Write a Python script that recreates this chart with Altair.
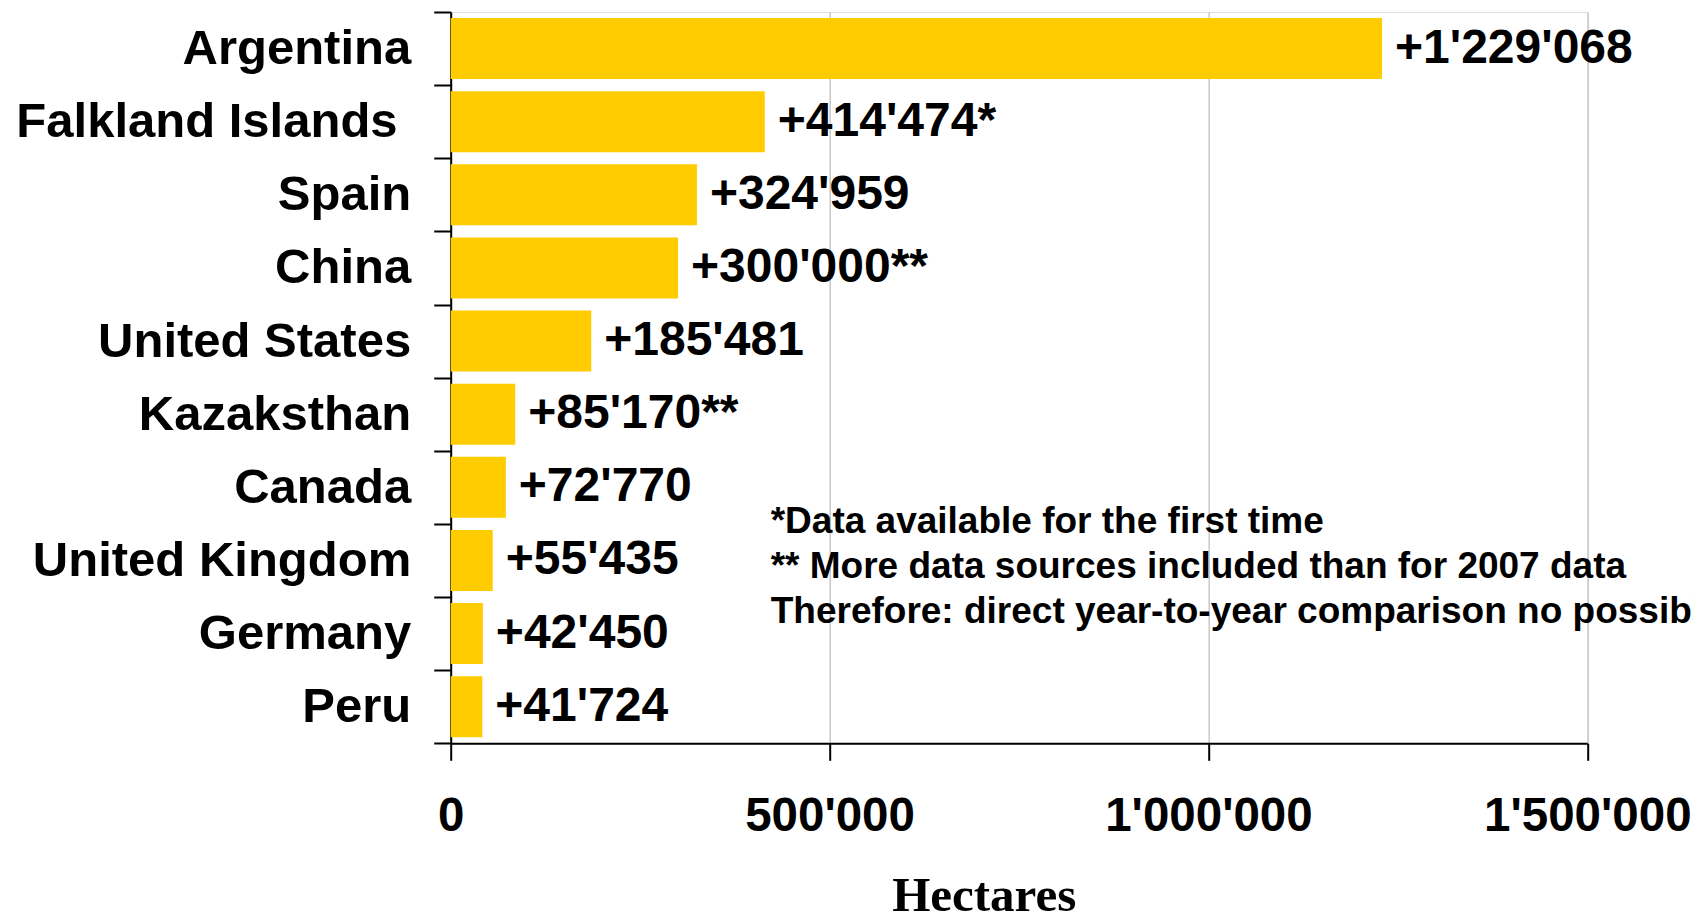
import altair as alt
import pandas as pd

countries = ["Argentina", "Falkland Islands\u00a0\u200b", "Spain", "China", "United States",
             "Kazaksthan", "Canada", "United Kingdom", "Germany", "Peru"]
hectares = [1229068, 414474, 324959, 300000, 185481, 85170, 72770, 55435, 42450, 41724]
value_labels = ["+1'229'068", "+414'474*", "+324'959", "+300'000**", "+185'481",
                "+85'170**", "+72'770", "+55'435", "+42'450", "+41'724"]
x_ticks = [0, 500000, 1000000, 1500000]
notes = ["*Data available for the first time",
         "** More data sources included than for 2007 data",
         "Therefore: direct year-to-year comparison no possible"]

df = pd.DataFrame({"country": countries, "value": hectares, "label": value_labels})
notes_df = pd.DataFrame({"note": ["\n".join(notes)]})

W = 1136.6
H = 731.3
FONT = "Liberation Sans"
SVG_W = 1686
SVG_H = 904

y_enc = alt.Y("country:N", sort=countries,
              scale=alt.Scale(paddingInner=0, paddingOuter=0),
              axis=alt.Axis(title=None, tickBand="extent", tickSize=17, labelPadding=23,
                            labelFontSize=49, labelFont=FONT, labelFontWeight="bold",
                            labelColor="black", domainColor="black", domainWidth=2,
                            tickColor="black", tickWidth=2, grid=False, labelLimit=0))
x_enc = alt.X("value:Q", scale=alt.Scale(domain=[0, 1500000], nice=False),
              axis=alt.Axis(values=x_ticks, title="Hectares", tickSize=17, labelPadding=56,
                            labelExpr="replace(format(datum.value, ','), regexp(',', 'g'), \"'\")",
                            labelFontSize=47.5, labelFont=FONT, labelFontWeight="bold",
                            labelColor="black", labelBaseline="middle", labelLimit=0,
                            domainColor="black", domainWidth=2, tickColor="black", tickWidth=2,
                            grid=True, gridColor="#C8C8C8", gridWidth=1.5,
                            titleFont="Liberation Serif", titleFontSize=49, titleFontWeight="bold",
                            titleColor="black", titleX=533, titleY=167, titleBaseline="alphabetic",
                            labelFlush=False, labelOverlap=False))

base = alt.Chart(df)
bars = base.mark_bar(color="#FFCC00", size=61).encode(x=x_enc, y=y_enc)
texts = base.mark_text(align="left", baseline="middle", dx=13, fontSize=48,
                       font=FONT, fontWeight="bold", color="black").encode(
    x="value:Q", y=alt.Y("country:N", sort=countries), text="label:N")
note_text = alt.Chart(notes_df).mark_text(align="left", baseline="middle", lineBreak="\n",
                                          lineHeight=45, fontSize=37, font=FONT,
                                          fontWeight="bold", color="black").encode(
    text="note:N", x=alt.value(320), y=alt.value(510))

chart = alt.layer(bars, texts, note_text).properties(
    width=W, height=H,
    autosize=alt.AutoSizeParams(type="none"),
    padding={"left": 442.7, "top": 4, "right": SVG_W - 442.7 - W, "bottom": SVG_H - 4 - H},
).configure_view(stroke=None).configure(background="white")

chart.save("out.html", embed_options={"renderer": "svg", "actions": False})
